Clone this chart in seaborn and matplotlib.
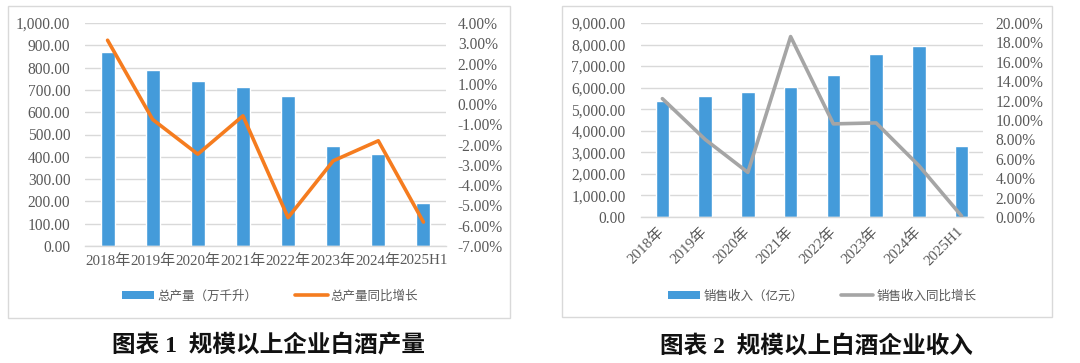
import matplotlib
matplotlib.use('Agg')
import matplotlib.pyplot as plt
import seaborn as sns
import numpy as np
from matplotlib.patches import Rectangle, Patch
from matplotlib.lines import Line2D
from matplotlib.ticker import FuncFormatter, MultipleLocator

# ---------------- data ----------------
years = ['2018年', '2019年', '2020年', '2021年', '2022年', '2023年', '2024年', '2025H1']
output_vals = [870, 787, 740, 715, 671, 449, 414, 191]            # 总产量（万千升）
output_growth = [3.15, -0.76, -2.47, -0.58, -5.60, -2.80, -1.81, -5.82]  # %
revenue_vals = [5363, 5610, 5811, 6030, 6600, 7558, 7944, 3277]    # 销售收入（亿元）
revenue_growth = [12.2, 8.0, 4.6, 18.6, 9.6, 9.7, 5.3, 0.1]       # %

legend1 = ['总产量（万千升）', '总产量同比增长']
legend2 = ['销售收入（亿元）', '销售收入同比增长']
title1 = '图表 1  规模以上企业白酒产量'
title2 = '图表 2  规模以上白酒企业收入'

# ---------------- style ----------------
sns.set_theme(style='white')
plt.rcParams['font.family'] = ['Liberation Serif', 'Noto Sans CJK SC']
plt.rcParams['axes.unicode_minus'] = False

BAR = '#449BDA'
ORANGE = '#F57C1F'
GRAY_LINE = '#A5A5A5'
TXT = '#595959'
GRID = '#D9D9D9'

W, H = 1080, 363
fig = plt.figure(figsize=(W / 100, H / 100), dpi=100)


def px_rect(x0, y0, x1, y1):
    return [x0 / W, 1 - y1 / H, (x1 - x0) / W, (y1 - y0) / H]


def draw(axrect, vals, growth, line_color, ymax, ystep, y2min, y2max, y2step,
         rot, lpad, rpad, xpad):
    ax = fig.add_axes(axrect)
    sns.barplot(x=years, y=vals, color=BAR, saturation=1, width=0.31, ax=ax)
    ax.set_ylim(0, ymax)
    ax.yaxis.set_major_locator(MultipleLocator(ystep))
    ax.yaxis.set_major_formatter(FuncFormatter(lambda v, p: f'{v:,.2f}'))
    ax.yaxis.grid(True, color=GRID, lw=1)
    ax.set_axisbelow(True)
    for s in ['top', 'left', 'right']:
        ax.spines[s].set_visible(False)
    ax.spines['bottom'].set_color(GRID)
    ax.spines['bottom'].set_linewidth(1)
    ax.set_xlabel('')
    ax.set_ylabel('')
    ax.tick_params(axis='y', length=0, labelsize=11.2, labelcolor=TXT, pad=lpad)
    ax.tick_params(axis='x', length=0, labelsize=10.8, labelcolor=TXT, pad=xpad)
    if rot:
        for lab in ax.get_xticklabels():
            lab.set_rotation(45)
            lab.set_ha('right')
            lab.set_va('center')
            lab.set_rotation_mode('anchor')

    ax2 = ax.twinx()
    sns.lineplot(x=np.arange(len(years)), y=growth, color=line_color, lw=2.6,
                 ax=ax2, legend=False)
    ax2.set_ylim(y2min, y2max)
    ax2.yaxis.set_major_locator(MultipleLocator(y2step))
    ax2.yaxis.set_major_formatter(FuncFormatter(lambda v, p: f'{v:.2f}%'))
    ax2.grid(False)
    for s in ax2.spines.values():
        s.set_visible(False)
    ax2.tick_params(axis='y', length=0, labelsize=11.2, labelcolor=TXT, pad=rpad)
    ax2.set_ylabel('')
    ax.set_xlim(-0.5, len(years) - 0.5)
    return ax


draw(px_rect(85, 23, 446, 246), output_vals, output_growth, ORANGE,
     1000, 100, -7, 4, 1, False, 10.5, 8.5, 6)
draw(px_rect(641, 23, 983, 217), revenue_vals, revenue_growth, GRAY_LINE,
     9000, 1000, 0, 20, 2, True, 11, 9, 9)

# panel borders
for (x0, y0, x1, y1) in [(8, 6, 510, 318), (562, 6, 1052, 317)]:
    fig.add_artist(Rectangle((x0 / W, 1 - y1 / H), (x1 - x0) / W, (y1 - y0) / H,
                             transform=fig.transFigure, fill=False,
                             edgecolor=GRID, lw=1))

# legends
for labels, lc, cx in [(legend1, ORANGE, 270), (legend2, GRAY_LINE, 822)]:
    handles = [Patch(facecolor=BAR, edgecolor='none'),
               Line2D([0], [0], color=lc, lw=2.6)]
    leg = fig.legend(handles, labels, loc='center', bbox_to_anchor=(cx / W, 1 - 296 / H),
                     ncol=2, frameon=False, handlelength=2.6, handleheight=0.6,
                     handletextpad=0.25, columnspacing=3.0,
                     prop={'family': ['Noto Sans CJK SC'], 'size': 9})
    for t in leg.get_texts():
        t.set_color(TXT)

# titles
for txt, cx in [(title1, 268), (title2, 816)]:
    fig.text(cx / W, 1 - 346 / H, txt, ha='center', va='center', fontsize=17,
             fontweight='bold', family=['Liberation Serif', 'Noto Sans CJK SC'],
             color='#111111')

fig.savefig('out.png', dpi=100)
